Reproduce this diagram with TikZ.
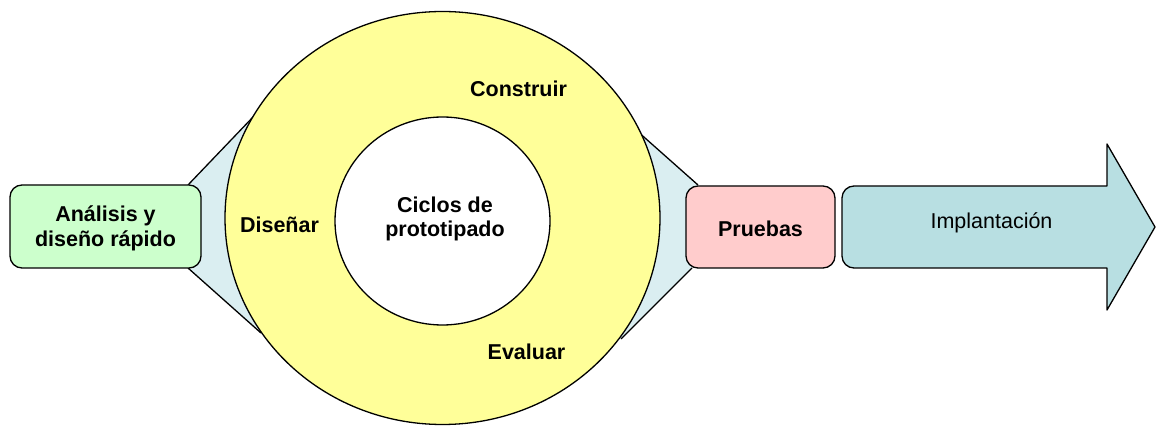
\documentclass[tikz,border=0pt]{standalone}
\usepackage{fontspec}
\setmainfont{Liberation Sans}
\usetikzlibrary{shapes.geometric}
\definecolor{ringyellow}{HTML}{FFFF99}
\definecolor{boxgreen}{HTML}{CCFFCC}
\definecolor{boxpink}{HTML}{FFCCCC}
\definecolor{funnelblue}{HTML}{DAEEF1}
\definecolor{arrowteal}{HTML}{B8DFE2}
\begin{document}
\begin{tikzpicture}[x=1pt,y=-1pt,line width=1.3pt,line join=round,
  txt/.style={font=\fontsize{21.5}{25}\selectfont\bfseries,inner sep=0pt,align=center},
  plaintxt/.style={font=\fontsize{21.5}{25}\selectfont,inner sep=0pt,align=center},
  stagebox/.style={draw,rounded corners=12pt,inner sep=0pt,
    font=\fontsize{21.5}{25}\selectfont\bfseries,align=center},
  funnel/.style={fill=funnelblue},
  funnelline/.style={draw}]
\useasboundingbox (0,0) rectangle (1157,427);
% funnels (behind the ring)
\coordinate (lt1) at (188,185);
\coordinate (lt2) at (254,116);
\coordinate (lb1) at (188,268);
\coordinate (lb2) at (261,333);
\coordinate (rt1) at (698,185);
\coordinate (rt2) at (636,130);
\coordinate (rb1) at (692,268);
\coordinate (rb2) at (621,339);
\fill[funnel] (lt1) -- (lt2) -- (442,218) -- (lb2) -- (lb1) -- cycle;
\fill[funnel] (rt1) -- (rt2) -- (442,218) -- (rb2) -- (rb1) -- cycle;
\draw[funnelline] (lt1) -- (lt2);
\draw[funnelline] (lb1) -- (lb2);
\draw[funnelline] (rt1) -- (rt2);
\draw[funnelline] (rb1) -- (rb2);
% ring
\node[ellipse,draw,fill=ringyellow,minimum width=435pt,minimum height=413pt,inner sep=0pt] (ring) at (442.5,218) {};
\node[ellipse,draw,fill=white,minimum width=215pt,minimum height=208pt,inner sep=0pt] (core) at (442.5,221) {};
\node[txt,anchor=base] (cyc1) at (445,213) {Ciclos de};
\node[txt,anchor=base] (cyc2) at (445,237) {prototipado};
\node[txt,anchor=base] (construir) at (518.5,96.5) {Construir};
\node[txt,anchor=base] (disenar) at (279.5,233) {Diseñar};
\node[txt,anchor=base] (evaluar) at (526.5,360) {Evaluar};
% boxes
\node[stagebox,fill=boxgreen,minimum width=191pt,minimum height=83pt] (analisis) at (105.5,226.5) {};
\node[txt,anchor=base] at (105.5,222) {Análisis y};
\node[txt,anchor=base] at (105.5,247) {diseño rápido};
\node[stagebox,fill=boxpink,minimum width=149pt,minimum height=82pt] (pruebas) at (760.5,227) {};
\node[txt,anchor=base] (pruebastxt) at (760.5,236.5) {Pruebas};
% arrow
\draw[fill=arrowteal] (1107,186) -- (854,186) arc[start angle=270,end angle=180,radius=12]
  -- (842,256) arc[start angle=180,end angle=90,radius=12]
  -- (1107,268) -- (1107,310) -- (1155,227) -- (1107,144) -- cycle;
\node[plaintxt,anchor=base] (implantacion) at (991.5,228.5) {Implantación};
\end{tikzpicture}
\end{document}
